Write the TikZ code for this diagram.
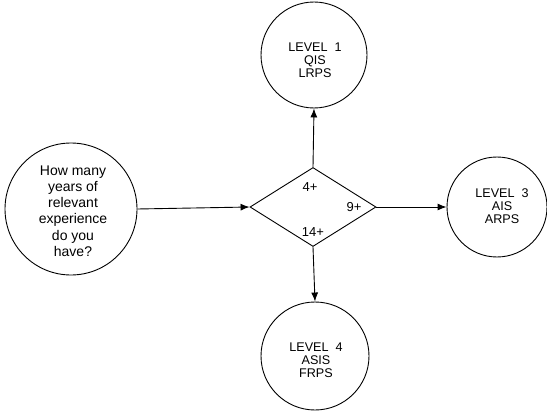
\documentclass[tikz,border=0pt]{standalone}
\usepackage{fontspec}
\setmainfont{Liberation Sans}
\usetikzlibrary{shapes.geometric,arrows.meta}
\begin{document}
\begin{tikzpicture}[x=1pt,y=-1pt,
  circ/.style={draw,circle,line width=0.9pt,inner sep=0pt},
  lvl/.style={align=center,font=\fontsize{12.6}{13}\selectfont,inner sep=0pt},
  qtext/.style={align=center,font=\fontsize{14}{16.2}\selectfont,inner sep=0pt},
  dlabel/.style={font=\fontsize{13}{14}\selectfont,inner sep=0pt},
  arr/.style={line width=0.9pt,-{Latex[length=9pt,width=7pt]}}]
\useasboundingbox (0,0) rectangle (547,412);
\node[circ,minimum size=132pt] (q) at (71,209) {};
\node[circ,minimum size=106pt] (l1) at (314,55) {};
\node[circ,minimum size=100pt] (l3) at (497,207) {};
\node[circ,minimum size=108pt] (l4) at (315,356) {};
\node[draw,diamond,line width=0.9pt,inner sep=0pt,minimum width=126pt,minimum height=79pt] (d) at (313,207) {};
\node[qtext] (qt) at (73,211) {How many\\years of\\relevant\\experience\\do you\\have?};
\node[lvl] (t1) at (315,60) {LEVEL\ \ 1\\QIS\\LRPS};
\node[lvl] (t3) at (502,206) {LEVEL\ \ 3\\AIS\\ARPS};
\node[lvl] (t4) at (316,360) {LEVEL\ \ 4\\ASIS\\FRPS};
\node[dlabel] (a4) at (310,187) {4+};
\node[dlabel] (a9) at (354,207) {9+};
\node[dlabel] (a14) at (313,232) {14+};
\draw[arr] (q.east) -- (d.west);
\draw[arr] (d.north) -- (l1.south);
\draw[arr] (d.east) -- (l3.west);
\draw[arr] (d.south) -- (l4.north);
\end{tikzpicture}
\end{document}
